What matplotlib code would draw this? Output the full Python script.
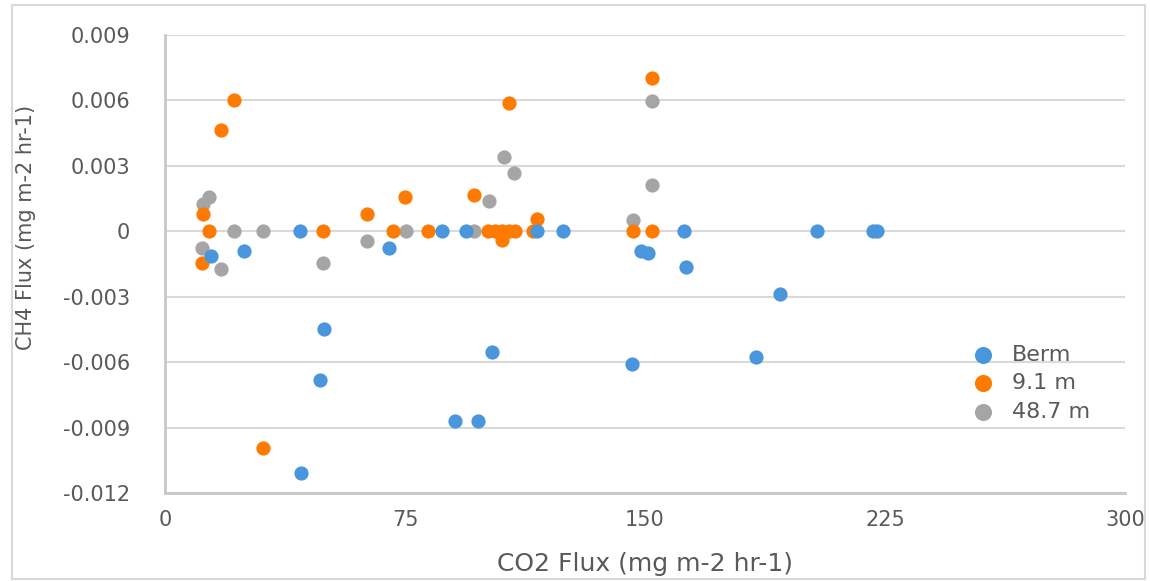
import matplotlib.pyplot as plt
from matplotlib.patches import Rectangle

plt.rcParams['font.family'] = ['DejaVu Sans']
plt.rcParams['axes.unicode_minus'] = False

# CO2 flux (x) and CH4 flux (y) per sampling location
berm_x = [42.2, 24.8, 14.4, 42.5, 49.8, 48.5, 102.2, 90.7, 97.9, 145.8, 184.7, 192.1,
          124.4, 148.6, 151.0, 162.1, 162.7, 203.8, 221.4, 222.4, 86.7, 94.1, 70.1, 116.3]
berm_y = [0, -0.0009, -0.00115, -0.0111, -0.0045, -0.0068, -0.00555, -0.0087, -0.0087,
          -0.00607, -0.00575, -0.00286, 0, -0.00092, -0.001, 0, -0.00165, 0, 0, 0, 0, 0,
          -0.00076, 0]

m9_x = [21.5, 17.5, 11.8, 13.8, 11.6, 49.3, 30.7, 63.0, 71.2, 75.0, 82.3, 96.5, 107.6,
        101.0, 103.2, 105.3, 107.5, 109.4, 105.2, 116.2, 115.0, 152.2, 146.4, 152.2]
m9_y = [0.00604, 0.00463, 0.00077, 0, -0.00145, 0, -0.00994, 0.00077, 0, 0.00157, 0,
        0.00165, 0.00589, 0, 0, 0, 0, 0, -0.00038, 0.00055, 0, 0.00705, 0, 0]

m48_x = [13.8, 11.8, 11.7, 17.5, 21.6, 30.7, 49.3, 63.0, 75.2, 96.7, 101.3, 106.0, 109.2,
         152.2, 152.2, 146.4]
m48_y = [0.00155, 0.00124, -0.00076, -0.00174, 0, 0, -0.00145, -0.00045, 0, 0, 0.00139,
         0.00341, 0.00269, 0.00598, 0.00214, 0.0005]

x_ticks = [0, 75, 150, 225, 300]
y_ticks = [-0.012, -0.009, -0.006, -0.003, 0, 0.003, 0.006, 0.009]
y_tick_labels = ['-0.012', '-0.009', '-0.006', '-0.003', '0', '0.003', '0.006', '0.009']

text_color = '#595959'

fig = plt.figure(figsize=(11.5, 5.81), dpi=100)
ax = fig.add_axes([165 / 1150, 88 / 581, 960 / 1150, 458 / 581])

ax.scatter(berm_x, berm_y, s=105, color='#4a96dc', linewidths=0, label='Berm', zorder=5)
ax.scatter(m9_x, m9_y, s=105, color='#fe7a00', linewidths=0, label='9.1 m', zorder=4)
ax.scatter(m48_x, m48_y, s=105, color='#a5a5a5', linewidths=0, label='48.7 m', zorder=3)

ax.set_xlim(0, 300)
ax.set_ylim(-0.012, 0.009)
ax.set_xticks(x_ticks)
ax.set_yticks(y_ticks)
ax.set_yticklabels(y_tick_labels)
ax.tick_params(axis='both', length=0, labelsize=15, colors=text_color)
ax.tick_params(axis='y', pad=25)
ax.tick_params(axis='x', pad=12)

ax.grid(axis='y', color='#d9d9d9', linewidth=1.5, zorder=0)
ax.set_axisbelow(True)
for side in ['top', 'right']:
    ax.spines[side].set_visible(False)
for side in ['left', 'bottom']:
    ax.spines[side].set_color('#c8c8c8')
    ax.spines[side].set_linewidth(2)

ax.set_xlabel('CO2 Flux (mg m-2 hr-1)', fontsize=18, color=text_color, labelpad=16)
ax.set_ylabel('CH4 Flux (mg m-2 hr-1)', fontsize=15, color=text_color)
ax.yaxis.set_label_coords(-0.134, 0.579)

leg = ax.legend(loc='center left', bbox_to_anchor=(0.808, 0.24), frameon=False,
                fontsize=16, handletextpad=0.3, labelspacing=0.38, markerscale=1.2)
for t in leg.get_texts():
    t.set_color(text_color)

# light border around the whole chart
fig.patches.append(Rectangle((12 / 1150, 2 / 581), 1133 / 1150, 574 / 581,
                             transform=fig.transFigure, fill=False,
                             edgecolor='#d9d9d9', linewidth=1.5))

fig.savefig('out.png', dpi=100)
